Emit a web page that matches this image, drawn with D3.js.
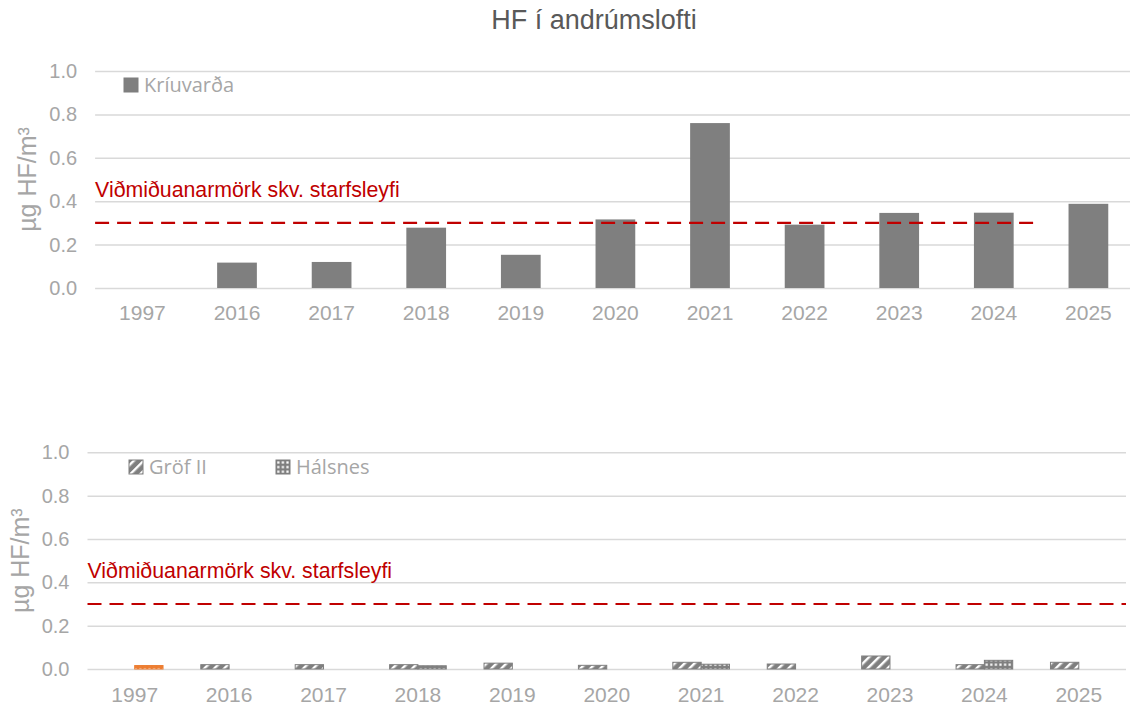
<!DOCTYPE html>
<html>
<head>
<meta charset="utf-8">
<script src="https://cdn.jsdelivr.net/npm/d3@7"></script>
<style>
  body { margin: 0; background: #fff; }
  svg { display: block; }
  .tick text { font-family: "Liberation Sans", Arial, sans-serif; fill: #A6A6A6; }
</style>
</head>
<body>
<div id="chart"></div>
<script>
// data
var years = ["1997", "2016", "2017", "2018", "2019", "2020", "2021", "2022", "2023", "2024", "2025"];
var kriuvarda = [null, 0.117, 0.12, 0.278, 0.153, 0.316, 0.76, 0.292, 0.346, 0.347, 0.388];
var grof = [null, 0.02, 0.02, 0.02, 0.027, 0.017, 0.031, 0.023, 0.06, 0.02, 0.031];
var halsnes = [0.016, null, null, 0.015, null, null, 0.022, null, null, 0.04, null];
var yTicks = [0, 0.2, 0.4, 0.6, 0.8, 1.0];
var limitValue = 0.3;
var limitLabel = "Viðmiðuanarmörk skv. starfsleyfi";
var limitEndTop = "2024";     // dashed line stops after this year on top panel
var limitEndBottom = "2025";
var highlightYear = "1997";   // Hálsnes 1997 point drawn in orange

var W = 1130, H = 706;
var GRAY = "#7F7F7F", RED = "#C00000", TXT = "#A6A6A6";

var svg = d3.select("#chart").append("svg")
            .attr("width", W)
            .attr("height", H);

// patterns
var defs = svg.append("defs");
function stripes(id, color) {
  var p = defs.append("pattern")
              .attr("id", id)
              .attr("patternUnits", "userSpaceOnUse")
              .attr("width", 7).attr("height", 7)
              .attr("patternTransform", "rotate(45)");
  p.append("rect").attr("width", 7).attr("height", 7).attr("fill", color);
  p.append("rect").attr("x", 0).attr("width", 2.4).attr("height", 7).attr("fill", "#fff");
}
function dots(id, color) {
  var p = defs.append("pattern")
              .attr("id", id)
              .attr("patternUnits", "userSpaceOnUse")
              .attr("width", 4.6).attr("height", 4.6);
  p.append("rect").attr("width", 4.6).attr("height", 4.6).attr("fill", color);
  p.append("rect").attr("x", 1.2).attr("y", 1.2).attr("width", 2.2).attr("height", 2.2).attr("fill", "#fff");
}
stripes("pGrof", GRAY);
dots("pHals", GRAY);
dots("pHalsOrange", "#ED7D31");

// title
svg.append("text")
   .attr("x", 594)
   .attr("y", 29)
   .attr("text-anchor", "middle")
   .style("font-family", "Liberation Sans, Arial, sans-serif")
   .style("font-size", "27px")
   .style("fill", "#595959")
   .text("HF í andrúmslofti");

function drawPanel(cfg) {
  var x = d3.scaleBand()
            .domain(years)
            .range([cfg.left, cfg.right])
            .paddingInner(cfg.pad)
            .paddingOuter(cfg.pad / 2);
  var y = d3.scaleLinear().domain([0, 1]).range([cfg.bottom, cfg.top]);
  var step = x.step();
  var slot = function(d) { return x(d) - step * cfg.pad / 2; };

  // grid + y labels
  var gY = svg.append("g")
              .attr("transform", "translate(" + cfg.left + ",0)")
              .call(d3.axisLeft(y)
                      .tickValues(yTicks)
                      .tickFormat(d3.format(".1f"))
                      .tickSize(-(cfg.gridRight - cfg.left))
                      .tickPadding(18));
  gY.select(".domain").remove();
  gY.selectAll(".tick line").attr("stroke", "#D9D9D9").attr("stroke-width", 1.5);
  gY.selectAll(".tick text").style("font-size", "20px");

  // x labels
  var gX = svg.append("g")
              .attr("transform", "translate(0," + cfg.bottom + ")")
              .call(d3.axisBottom(x).tickSize(0).tickPadding(cfg.xPad));
  gX.select(".domain").remove();
  gX.selectAll(".tick text").style("font-size", "21px");

  // y title
  svg.append("text")
     .attr("transform", "translate(" + cfg.titleX + "," + ((cfg.top + cfg.bottom) / 2) + ") rotate(-90)")
     .attr("text-anchor", "middle")
     .style("font-family", "Liberation Sans, Arial, sans-serif")
     .style("font-size", "25px")
     .style("fill", TXT)
     .text("µg HF/m³");

  cfg.bars(x, y);

  // limit line
  svg.append("line")
     .attr("x1", cfg.left)
     .attr("x2", Math.min(slot(cfg.limitEnd) + step, cfg.gridRight))
     .attr("y1", y(limitValue))
     .attr("y2", y(limitValue))
     .attr("stroke", RED)
     .attr("stroke-width", 2.2)
     .attr("stroke-dasharray", "14,8");

  svg.append("text")
     .attr("x", cfg.left)
     .attr("y", y(limitValue) - 26)
     .style("font-family", "Liberation Sans, Arial, sans-serif")
     .style("font-size", "21.3px")
     .style("fill", RED)
     .text(limitLabel);

  // legend
  var lg = svg.append("g").attr("transform", "translate(0," + cfg.legendY + ")");
  cfg.legend.forEach(function(l) {
    lg.append("rect")
      .attr("x", l.x).attr("y", -14)
      .attr("width", 14).attr("height", 14)
      .attr("fill", l.fill)
      .attr("stroke", GRAY).attr("stroke-width", 1);
    lg.append("text")
      .attr("x", l.x + 20).attr("y", 0)
      .style("font-family", "Open Sans, sans-serif")
      .style("font-size", "20px")
      .style("fill", TXT)
      .text(l.name);
  });
}

// top panel
drawPanel({
  left: 95.1, right: 1135.7, gridRight: W, top: 71, bottom: 288,
  pad: 0.58, xPad: 17, titleX: 36, limitEnd: limitEndTop, legendY: 92,
  legend: [{ name: "Kríuvarða", fill: GRAY, x: 124 }],
  bars: function(x, y) {
    var data = years.map(function(d, i) { return { year: d, v: kriuvarda[i] }; })
                    .filter(function(d) { return d.v !== null; });
    svg.selectAll(".barTop")
       .data(data)
       .enter().append("rect")
       .attr("class", "barTop")
       .attr("x", d => x(d.year))
       .attr("y", d => y(d.v))
       .attr("width", x.bandwidth())
       .attr("height", d => y(0) - y(d.v))
       .attr("fill", GRAY);
  }
});

// bottom panel
drawPanel({
  left: 87.5, right: 1126, gridRight: 1126, top: 452.3, bottom: 669,
  pad: 0.4, xPad: 18.5, titleX: 29, limitEnd: limitEndBottom, legendY: 474,
  legend: [{ name: "Gröf II", fill: "url(#pGrof)", x: 129 },
           { name: "Hálsnes", fill: "url(#pHals)", x: 276 }],
  bars: function(x, y) {
    var series = ["Gröf II", "Hálsnes"];
    var xs = d3.scaleBand().domain(series).range([0, x.bandwidth()]);
    var data = [];
    years.forEach(function(d, i) {
      if (grof[i] !== null) data.push({ year: d, s: "Gröf II", v: grof[i] });
      if (halsnes[i] !== null) data.push({ year: d, s: "Hálsnes", v: halsnes[i] });
    });
    svg.selectAll(".barBot")
       .data(data)
       .enter().append("rect")
       .attr("class", "barBot")
       .attr("x", d => x(d.year) + xs(d.s))
       .attr("y", d => y(d.v))
       .attr("width", xs.bandwidth())
       .attr("height", d => y(0) - y(d.v))
       .attr("fill", function(d) {
         if (d.s === "Gröf II") return "url(#pGrof)";
         return d.year === highlightYear ? "url(#pHalsOrange)" : "url(#pHals)";
       })
       .attr("stroke", d => (d.s === "Hálsnes" && d.year === highlightYear) ? "#ED7D31" : GRAY)
       .attr("stroke-width", 1);
  }
});
</script>
</body>
</html>
